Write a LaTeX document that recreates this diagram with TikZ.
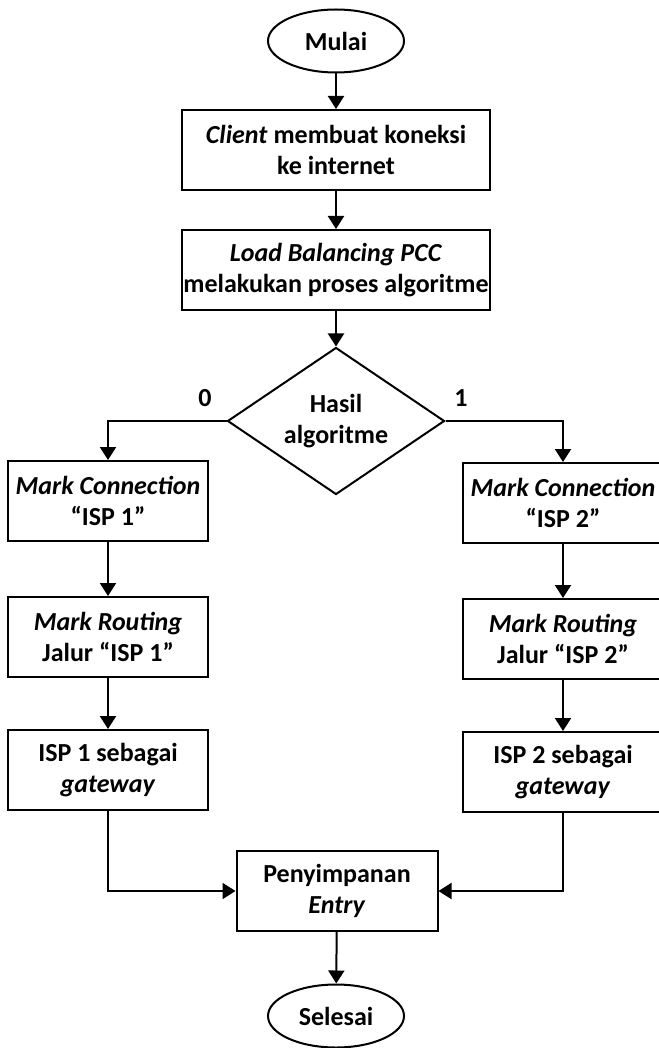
\documentclass[tikz,border=0pt]{standalone}
\usepackage{fontspec}
\setmainfont{Carlito}
\usetikzlibrary{shapes.geometric,arrows.meta}

\tikzset{every picture/.style={line width=2pt}}
\tikzset{
  teks/.style={font=\fontsize{26}{31}\selectfont\bfseries, align=center, inner sep=0pt},
  kotak/.style={teks, draw, rectangle, minimum height=80pt},
  terminal/.style={teks, draw, ellipse, minimum width=136pt, minimum height=63pt},
  putusan/.style={teks, draw, diamond, shape aspect=1.48, minimum width=217pt, minimum height=147pt},
  panah/.style={-{Triangle[length=13pt,width=16pt]}}
}

\begin{document}
\begin{tikzpicture}[x=1pt,y=1pt,yscale=-1]
				\useasboundingbox (0,0) rectangle (658,1048);
				%Shape: Ellipse [mulai]
				\node[terminal] (mulai) at (336,41) {Mulai};
				%Shape: Rectangle [klien]
				\node[kotak, minimum width=308pt] (klien) at (336,150) {\textit{Client} membuat koneksi\\ke internet};
				%Shape: Rectangle [pcc]
				\node[kotak, minimum width=308pt] (pcc) at (336,270) {\textit{Load Balancing PCC}\\melakukan proses algoritme};
				%Shape: Diamond [hasil]
				\node[putusan] (hasil) at (336,421) {Hasil\\algoritme};
				%Text: branch labels
				\node[teks] (nol) at (205,398) {0};
				\node[teks] (satu) at (461,398) {1};
				%Shape: Rectangle [left column]
				\node[kotak, minimum width=200pt] (markcon1) at (108,501) {\textit{Mark Connection}\\“ISP 1”};
				\node[kotak, minimum width=200pt] (markrout1) at (108,637) {\textit{Mark Routing}\\Jalur “ISP 1”};
				\node[kotak, minimum width=200pt] (gateway1) at (108,770) {ISP 1 sebagai\\\textit{gateway}};
				%Shape: Rectangle [right column]
				\node[kotak, minimum width=200pt] (markcon2) at (563,503) {\textit{Mark Connection}\\“ISP 2”};
				\node[kotak, minimum width=200pt] (markrout2) at (563,639) {\textit{Mark Routing}\\Jalur “ISP 2”};
				\node[kotak, minimum width=200pt] (gateway2) at (563,772) {ISP 2 sebagai\\\textit{gateway}};
				%Shape: Rectangle [simpan]
				\node[kotak, minimum width=201pt] (simpan) at (337,891) {Penyimpanan\\\textit{Entry}};
				%Shape: Ellipse [selesai]
				\node[terminal] (selesai) at (336,1016) {Selesai};
				%Straight Lines
				\draw[panah] (mulai) -- (klien);
				\draw[panah] (klien) -- (pcc);
				\draw[panah] (pcc) -- (hasil);
				\draw[panah] (hasil.west) -| (markcon1.north);
				\draw[panah] (hasil.east) -| (markcon2.north);
				\draw[panah] (markcon1) -- (markrout1);
				\draw[panah] (markrout1) -- (gateway1);
				\draw[panah] (markcon2) -- (markrout2);
				\draw[panah] (markrout2) -- (gateway2);
				\draw[panah] (gateway1.south) |- (simpan.west);
				\draw[panah] (gateway2.south) |- (simpan.east);
				\draw[panah] (simpan) -- (selesai);
\end{tikzpicture}
\end{document}
